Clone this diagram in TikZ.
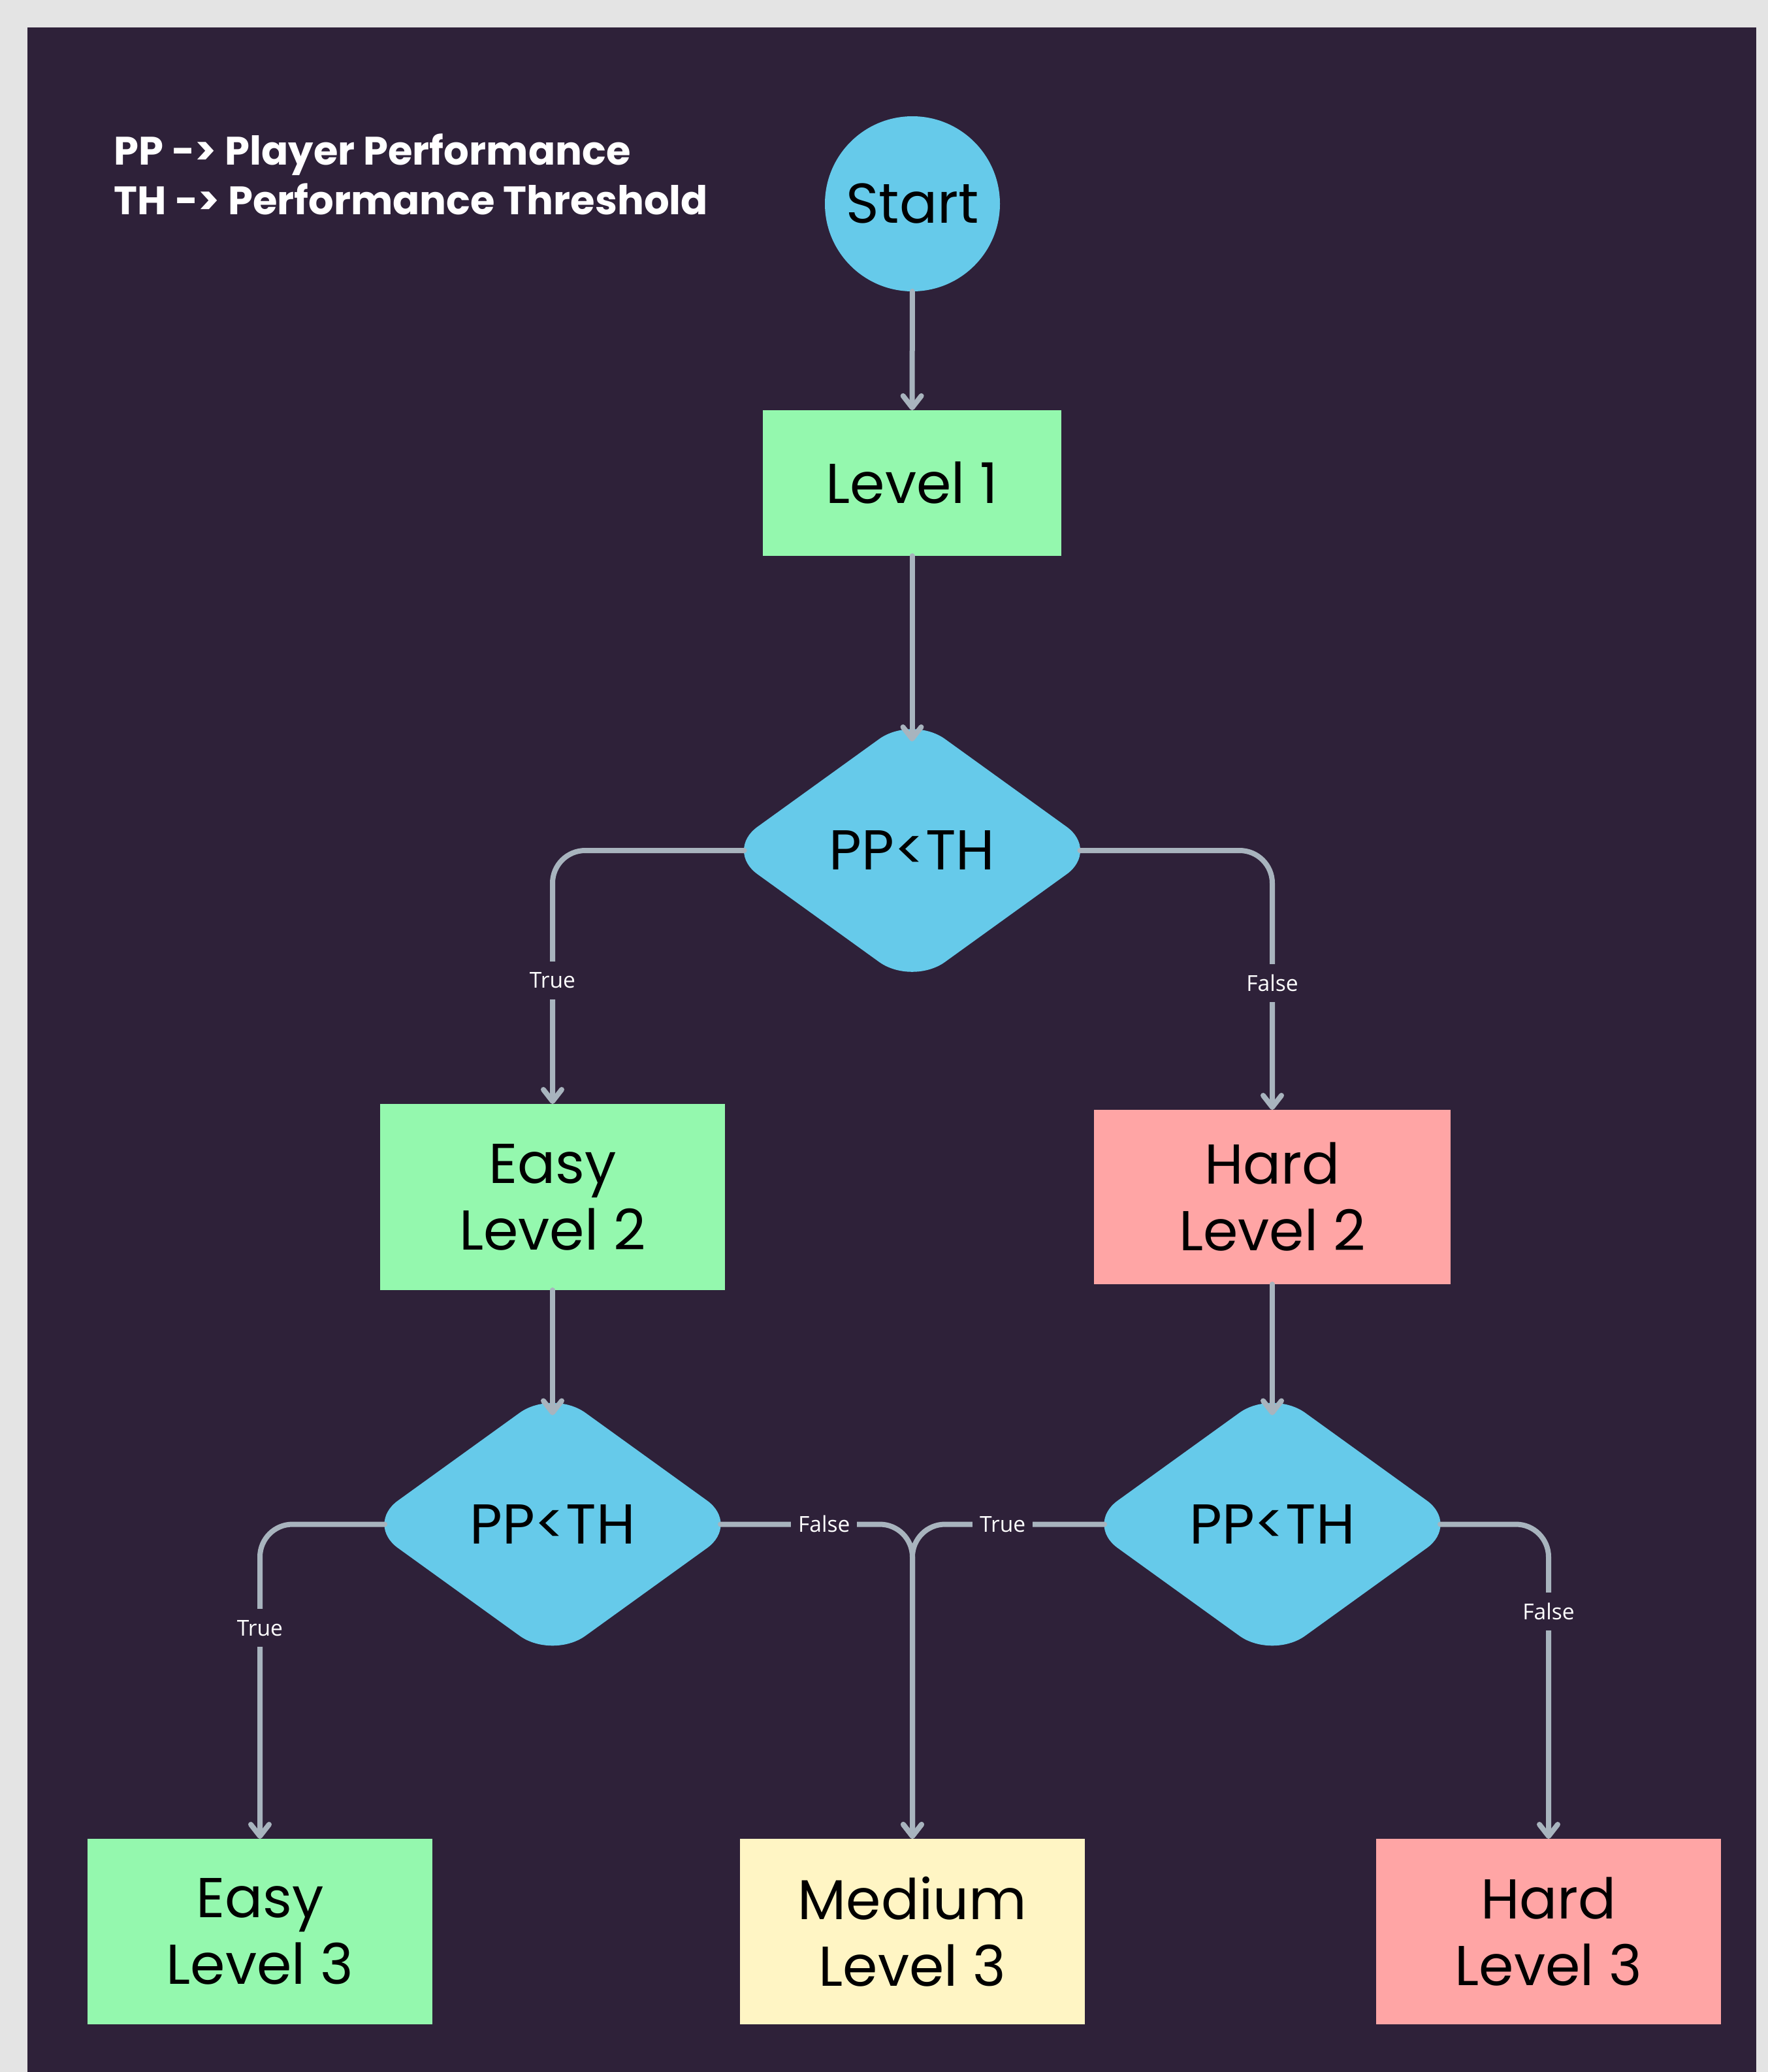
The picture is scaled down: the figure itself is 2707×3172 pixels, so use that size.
\documentclass[tikz,border=0pt]{standalone}
\usepackage{fontspec}
\setmainfont{Poppins}
\newfontfamily\lblfamily{Open Sans}
\usetikzlibrary{shapes.geometric,arrows.meta,calc}
\definecolor{panel}{HTML}{2E2139}
\definecolor{outerC}{HTML}{E4E4E4}
\definecolor{greenC}{HTML}{94F8AE}
\definecolor{blueC}{HTML}{66CAEA}
\definecolor{pinkC}{HTML}{FFA5A5}
\definecolor{yellowC}{HTML}{FFF5C4}
\definecolor{lineC}{HTML}{A8B4BE}
\newcommand{\boxfnt}{\fontsize{21.5}{25.5}\selectfont}
\newcommand{\legfnt}{\bfseries\fontsize{15.2}{19}\selectfont}
\newcommand{\lblfnt}{\lblfamily\fontsize{8.4}{10}\selectfont}
\begin{document}
\begin{tikzpicture}[x=0.25pt,y=-0.25pt,
  conn/.style={draw=lineC, line width=2pt, line cap=round, line join=round, rounded corners=12.5pt},
  arr/.style={conn, -{Straight Barb[length=4.5pt,width=7pt,round]}},
  box/.style={rectangle, inner sep=0pt, outer sep=0pt, align=center, font=\boxfnt, text=black},
  dec/.style={diamond, fill=blueC, minimum width=143.5pt, minimum height=103.5pt, inner sep=0pt, outer sep=0pt, rounded corners=15.5pt, font=\boxfnt, text=black},
  lbl/.style={fill=panel, text=white, font=\lblfnt, inner xsep=2.75pt, inner ysep=4.25pt, text height=6pt, text depth=0pt, rounded corners=0pt},
  leg/.style={anchor=base west, text=white, font=\legfnt, inner sep=0pt}]
\useasboundingbox (0,0) rectangle (2707,3172);
\fill[outerC] (0,0) rectangle (2707,3172);
\fill[panel] (42,42) rectangle (2689,3172);

% legend
\node[leg] (leg1) at (174,252) {PP -> Player Performance};
\node[leg] (leg2) at (174,328) {TH -> Performance Threshold};

% nodes
\node[circle, fill=blueC, minimum size=67pt, inner sep=0pt, outer sep=0pt, font=\boxfnt, text=black] (start) at (1397,312) {Start};
\node[box, fill=greenC, minimum width=114.25pt, minimum height=55.75pt] (l1) at (1396.5,739.5) {Level 1};
\node[dec] (d1) at (1396.5,1302) {PP<TH};
\node[box, fill=greenC, minimum width=132pt, minimum height=71.25pt] (e2) at (846,1832.5) {Easy\\Level 2};
\node[box, fill=pinkC, minimum width=136.5pt, minimum height=66.75pt] (h2) at (1948,1832.5) {Hard\\Level 2};
\node[dec] (d2) at (846,2333.5) {PP<TH};
\node[dec] (d3) at (1948,2333.5) {PP<TH};
\node[box, fill=greenC, minimum width=132pt, minimum height=71pt] (e3) at (398,2957) {Easy\\Level 3};
\node[box, fill=yellowC, minimum width=132pt, minimum height=71pt] (m3) at (1397,2957) {Medium\\Level 3};
\node[box, fill=pinkC, minimum width=132pt, minimum height=71pt] (h3) at (2371,2957) {Hard\\Level 3};

% connectors
\draw[arr] (start) -- (l1);
\draw[arr, shorten >=-10pt] (l1) -- (d1);
\draw[arr] ($(d1.west)+(30,0)$) -| node[lbl, pos=0.756] (t1) {True} (e2);
\draw[arr] ($(d1.east)+(-30,0)$) -| node[lbl, pos=0.756] (f1) {False} (h2);
\draw[arr, shorten >=-10pt] (e2) -- (d2);
\draw[arr, shorten >=-10pt] (h2) -- (d3);
\draw[arr] ($(d2.west)+(30,0)$) -| node[lbl, pos=0.665] (t2) {True} (e3);
\draw[arr] ($(d2.east)+(-30,0)$) -| node[lbl, pos=0.27] (f2) {False} (m3);
\draw[arr] ($(d3.west)+(30,0)$) -| node[lbl, pos=0.265] (t3) {True} (m3);
\draw[arr] ($(d3.east)+(-30,0)$) -| node[lbl, pos=0.639] (f3) {False} (h3);
\end{tikzpicture}
\end{document}
